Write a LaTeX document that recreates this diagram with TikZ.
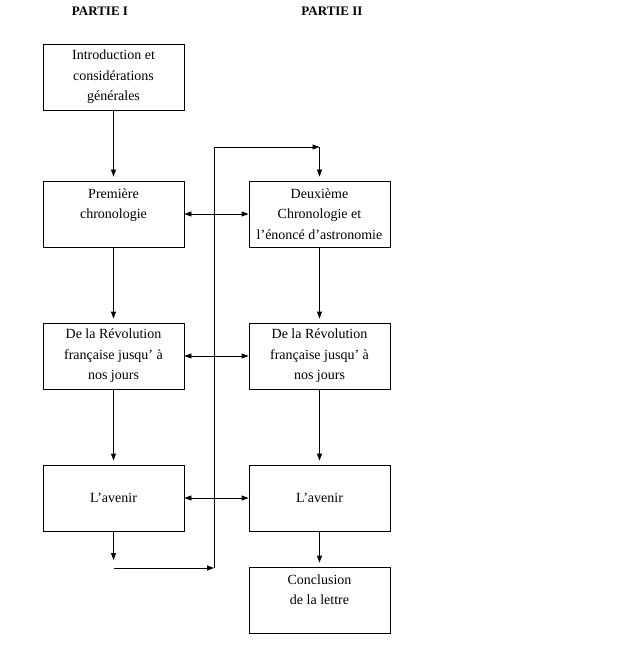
\documentclass[tikz,border=0pt]{standalone}
\usepackage{fontspec}
\setmainfont{Liberation Serif}
\usetikzlibrary{arrows.meta}

\tikzset{
  box/.style={draw, line width=0.8pt, minimum width=141pt, minimum height=66pt,
    align=center, inner sep=0pt},
  arr/.style={-{Triangle[length=7pt,width=5pt]}},
  darr/.style={{Triangle[length=7pt,width=5pt]}-{Triangle[length=7pt,width=5pt]}},
  title/.style={font=\fontsize{13}{16}\selectfont\bfseries}
}

\begin{document}
\begin{tikzpicture}[x=1pt,y=-1pt,font=\fontsize{14}{20.5}\selectfont,line width=0.8pt]
\useasboundingbox (0,0) rectangle (627,663);

\node[title] (partI) at (100,11) {PARTIE I};
\node[title] (partII) at (332,11) {PARTIE II};

% partie I
\node[box] (intro) at (113.5,77) {Introduction et\\considérations\\générales};
\node[box] (chronoI) at (113.5,214) {Première\\chronologie\\~};
\node[box] (revI) at (113.5,356) {De la Révolution\\française jusqu’ à\\nos jours};
\node[box] (aveI) at (113.5,498) {L’avenir};

% partie II
\node[box] (chronoII) at (319.5,214) {Deuxième\\Chronologie et\\l’énoncé d’astronomie};
\node[box] (revII) at (319.5,356) {De la Révolution\\française jusqu’ à\\nos jours};
\node[box] (aveII) at (319.5,498) {L’avenir};
\node[box] (concl) at (319.5,600) {Conclusion\\de la lettre\\~};

\draw[arr, shorten >=4pt] (intro) -- (chronoI);
\draw[arr, shorten >=4pt] (chronoI) -- (revI);
\draw[arr, shorten >=4pt] (revI) -- (aveI);
\draw[arr, shorten >=4pt] (chronoII) -- (revII);
\draw[arr, shorten >=4pt] (revII) -- (aveII);
\draw[arr, shorten >=4pt] (aveII) -- (concl);

\draw[darr] (chronoI) -- (chronoII);
\draw[darr] (revI) -- (revII);
\draw[darr] (aveI) -- (aveII);

% passage de la partie I a la partie II
\coordinate (b1) at (113.5,568);
\coordinate (b2) at (214,568);
\coordinate (t1) at (214,147);
\coordinate (t2) at (319.5,147);
\draw[arr, shorten >=8pt] (aveI) -- (b1);
\draw[arr] (b1) -- (b2);
\draw (b2) -- (t1);
\draw[arr] (t1) -- (t2);
\draw[arr, shorten >=4pt] (t2) -- (chronoII);
\end{tikzpicture}
\end{document}
